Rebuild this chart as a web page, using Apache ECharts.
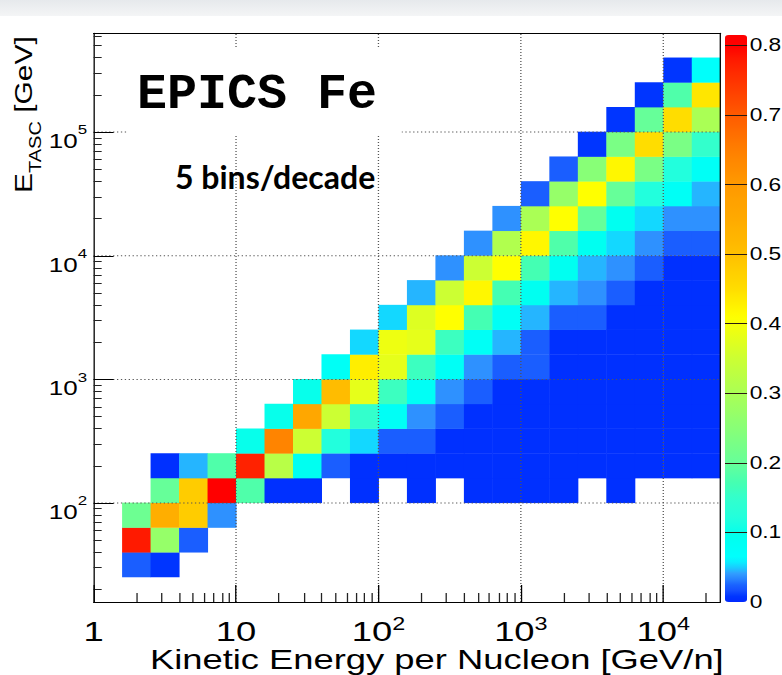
<!DOCTYPE html>
<html>
<head>
<meta charset="utf-8">
<script src="https://cdn.jsdelivr.net/npm/echarts@6/dist/echarts.min.js"></script>
<style>
  html, body { margin: 0; padding: 0; background: #ffffff; overflow: hidden; }
  /* the ROOT-style plot is drawn in a narrower frame and stretched horizontally */
  #chart { width: 602px; height: 675px; transform: scaleX(1.299); transform-origin: 0 0; }
</style>
</head>
<body>
<div id="chart"></div>
<script>
// horizontal stretch applied to the drawing frame (782 / 602)
const STRETCH = 782 / 602;

// binning: 5 bins per decade on both axes (log10 units)
const binWidthLog = 0.2;
const xMinLog = 0;      // 1 GeV/n
const xMaxLog = 4.4;    // ~2.5e4 GeV/n
const yMinLog = 1.2;    // ~16 GeV
const yMaxLog = 5.8;    // ~6.3e5 GeV
const yFirstRowLog = 1.4;

// decade ticks and labels
const xMajorTicks = [0, 1, 2, 3, 4];
const yMajorTicks = [2, 3, 4, 5];
const minorFactors = [2, 3, 4, 5, 6, 7, 8, 9];
const gridXLog = [1, 2, 3, 4];
const gridYLog = [2, 3, 4, 5];

// colour scale
const zMax = 0.815;
const zStep = 0.1;
const zTicks = [0, 0.1, 0.2, 0.3, 0.4, 0.5, 0.6, 0.7, 0.8];

// normalised bin content, one row per E_TASC bin from log10 E = 1.4 upwards,
// 22 kinetic-energy bins per row (log10 Ek = 0.0 ... 4.4); __ = empty bin
const __ = null;
const zRows = [
  [__, 0.022, 0.008, __, __, __, __, __, __, __, __, __, __, __, __, __, __, __, __, __, __, __],
  [__, 0.78, 0.27, 0.022, __, __, __, __, __, __, __, __, __, __, __, __, __, __, __, __, __, __],
  [__, 0.21, 0.54, 0.48, 0.037, __, __, __, __, __, __, __, __, __, __, __, __, __, __, __, __, __],
  [__, __, 0.20, 0.48, 0.81, 0.18, 0.005, 0.005, __, 0.005, __, 0.005, __, 0.005, 0.005, 0.005, 0.005, __, 0.005, __, __, __],
  [__, __, 0.005, 0.045, 0.18, 0.77, 0.32, 0.09, 0.022, 0.005, 0.005, 0.005, 0.005, 0.005, 0.005, 0.005, 0.005, 0.005, 0.005, 0.005, 0.005, 0.005],
  [__, __, __, __, __, 0.10, 0.64, 0.35, 0.12, 0.052, 0.022, 0.022, 0.005, 0.005, 0.005, 0.005, 0.005, 0.005, 0.005, 0.005, 0.005, 0.005],
  [__, __, __, __, __, __, 0.10, 0.56, 0.35, 0.15, 0.08, 0.037, 0.022, 0.005, 0.005, 0.005, 0.005, 0.005, 0.005, 0.005, 0.005, 0.005],
  [__, __, __, __, __, __, __, 0.10, 0.51, 0.38, 0.16, 0.08, 0.037, 0.022, 0.005, 0.005, 0.005, 0.005, 0.005, 0.005, 0.005, 0.005],
  [__, __, __, __, __, __, __, __, 0.08, 0.43, 0.38, 0.16, 0.08, 0.037, 0.022, 0.022, 0.005, 0.005, 0.005, 0.005, 0.005, 0.005],
  [__, __, __, __, __, __, __, __, __, 0.052, 0.39, 0.38, 0.16, 0.08, 0.045, 0.022, 0.005, 0.005, 0.005, 0.005, 0.005, 0.005],
  [__, __, __, __, __, __, __, __, __, __, 0.052, 0.37, 0.41, 0.17, 0.08, 0.045, 0.022, 0.022, 0.005, 0.005, 0.005, 0.005],
  [__, __, __, __, __, __, __, __, __, __, __, 0.045, 0.35, 0.42, 0.17, 0.09, 0.045, 0.037, 0.022, 0.005, 0.005, 0.005],
  [__, __, __, __, __, __, __, __, __, __, __, __, 0.037, 0.35, 0.41, 0.17, 0.09, 0.045, 0.037, 0.022, 0.005, 0.005],
  [__, __, __, __, __, __, __, __, __, __, __, __, __, 0.037, 0.31, 0.42, 0.18, 0.09, 0.052, 0.037, 0.022, 0.022],
  [__, __, __, __, __, __, __, __, __, __, __, __, __, __, 0.037, 0.30, 0.41, 0.20, 0.09, 0.052, 0.037, 0.037],
  [__, __, __, __, __, __, __, __, __, __, __, __, __, __, __, 0.022, 0.27, 0.41, 0.20, 0.12, 0.08, 0.045],
  [__, __, __, __, __, __, __, __, __, __, __, __, __, __, __, __, 0.022, 0.25, 0.42, 0.23, 0.12, 0.08],
  [__, __, __, __, __, __, __, __, __, __, __, __, __, __, __, __, __, 0.008, 0.23, 0.45, 0.23, 0.15],
  [__, __, __, __, __, __, __, __, __, __, __, __, __, __, __, __, __, __, 0.008, 0.20, 0.45, 0.30],
  [__, __, __, __, __, __, __, __, __, __, __, __, __, __, __, __, __, __, __, 0.008, 0.18, 0.44],
  [__, __, __, __, __, __, __, __, __, __, __, __, __, __, __, __, __, __, __, __, 0.008, 0.07]
];

// rainbow palette, compressed blue end
const paletteStops = [
  [0.000, '#0028ff'], [0.010, '#0038ff'], [0.018, '#1a55ff'], [0.026, '#1a66ff'],
  [0.034, '#2a88ff'], [0.040, '#3399ff'], [0.046, '#22bbff'], [0.053, '#11ddff'],
  [0.062, '#00ffff'], [0.095, '#00ffee'], [0.120, '#22ffdd'], [0.150, '#33ffcc'],
  [0.170, '#44ffb3'], [0.200, '#66ff99'], [0.250, '#88ff77'], [0.300, '#aaff55'],
  [0.350, '#ccff33'], [0.390, '#eeff11'], [0.410, '#ffff00'], [0.450, '#ffdd00'],
  [0.500, '#ffc000'], [0.550, '#ffaa00'], [0.600, '#ff9900'], [0.650, '#ff7f00'],
  [0.700, '#ff5a00'], [0.750, '#ff3300'], [0.780, '#ff1a00'], [0.800, '#ff0000'],
  [0.815, '#ff0000']
];

function hexRgb(h) {
  return [parseInt(h.slice(1, 3), 16), parseInt(h.slice(3, 5), 16), parseInt(h.slice(5, 7), 16)];
}
function paletteAt(v) {
  for (let k = 1; k < paletteStops.length; k++) {
    const [v1, c1] = paletteStops[k];
    if (v <= v1 + 1e-12) {
      const [v0, c0] = paletteStops[k - 1];
      const t = (v - v0) / (v1 - v0);
      const a = hexRgb(c0), b = hexRgb(c1);
      return 'rgb(' + a.map((x, n) => Math.round(x + (b[n] - x) * t)).join(',') + ')';
    }
  }
  return paletteStops[paletteStops.length - 1][1];
}
const barSamples = 327;
const barColors = [];
for (let k = 0; k < barSamples; k++) barColors.push(paletteAt(zMax * k / (barSamples - 1)));

// cells: [log10 Ek lower edge, log10 E_TASC lower edge, content]
const cells = [];
zRows.forEach((row, j) => {
  row.forEach((z, i) => {
    if (z !== null) cells.push([xMinLog + i * binWidthLog, yFirstRowLog + j * binWidthLog, z]);
  });
});

function minorTicks(lo, hi) {
  const out = [];
  for (let d = Math.floor(lo); d <= Math.ceil(hi); d++) {
    minorFactors.forEach(f => {
      const v = d + Math.log10(f);
      if (v > lo && v < hi) out.push(v);
    });
  }
  return out;
}

function powerLabel(v) {
  const n = Math.round(v);
  if (n === 0) return '{b|1}';
  if (n === 1) return '{b|10}';
  return '{b|10}{s|' + n + '}';
}

const sansFont = '"Liberation Sans", Arial, Helvetica, sans-serif';

// y-axis title pieces: E with subscript TASC, then the unit
const yTitleMainFont = '30px "Liberation Sans", Arial, sans-serif';
const yTitleSubFont = '20px "Liberation Sans", Arial, sans-serif';
const measureCtx = document.createElement('canvas').getContext('2d');
function textWidth(text, font) { measureCtx.font = font; return measureCtx.measureText(text).width; }
const wE = textWidth('E', yTitleMainFont);
const wSub = textWidth('TASC', yTitleSubFont);

// plot frame in drawing units
const plotLeft = 72.06, plotTop = 33.2, plotWidth = 482.4, plotHeight = 568.8;
const barLeft = 558.1, barTop = 35, barWidth = 17, barHeight = 567;

const chart = echarts.init(document.getElementById('chart'), null, { renderer: 'svg', width: 602, height: 675 });

chart.setOption({
  animation: false,
  backgroundColor: '#ffffff',
  grid: [
    { left: plotLeft, top: plotTop, width: plotWidth, height: plotHeight, containLabel: false, outerBoundsMode: 'none' },
    { left: barLeft, top: barTop, width: barWidth, height: barHeight, containLabel: false, outerBoundsMode: 'none' }
  ],
  xAxis: [
    {
      type: 'value', gridIndex: 0, position: 'bottom', min: xMinLog, max: xMaxLog, z: 5,
      axisLine: { show: true, onZero: false, lineStyle: { color: '#000', width: 1 } },
      axisTick: { show: true, inside: true, length: 17, customValues: xMajorTicks, lineStyle: { color: '#000', width: 1 } },
      axisLabel: {
        show: true, customValues: xMajorTicks, margin: 12.5, color: '#000', formatter: powerLabel,
        rich: {
          b: { fontFamily: sansFont, fontSize: 28, lineHeight: 31, verticalAlign: 'bottom', color: '#000' },
          s: { fontFamily: sansFont, fontSize: 18, lineHeight: 12, verticalAlign: 'top', color: '#000' }
        }
      },
      splitLine: { show: false },
      name: 'Kinetic Energy per Nucleon [GeV/n]', nameLocation: 'middle', nameGap: 44, nameMoveOverlap: false,
      nameTextStyle: { fontFamily: sansFont, fontSize: 28, color: '#000', padding: [0, 0, 0, 46] }
    },
    {
      type: 'value', gridIndex: 0, position: 'bottom', min: xMinLog, max: xMaxLog, z: 5,
      axisLine: { show: false, onZero: false },
      axisTick: { show: true, inside: true, length: 9, customValues: minorTicks(xMinLog, xMaxLog), lineStyle: { color: '#222', width: 1 } },
      axisLabel: { show: false },
      splitLine: { show: false }
    },
    {
      type: 'value', gridIndex: 0, position: 'top', min: xMinLog, max: xMaxLog, z: 5,
      axisLine: { show: true, onZero: false, lineStyle: { color: '#000', width: 1 } },
      axisTick: { show: false }, axisLabel: { show: false }, splitLine: { show: false }
    },
    {
      type: 'value', gridIndex: 1, min: 0, max: 1, show: false
    }
  ],
  yAxis: [
    {
      type: 'value', gridIndex: 0, position: 'left', min: yMinLog, max: yMaxLog, z: 5,
      axisLine: { show: true, onZero: false, lineStyle: { color: '#000', width: 1 } },
      axisTick: { show: true, inside: true, length: 15.4, customValues: yMajorTicks, lineStyle: { color: '#000', width: 1 } },
      axisLabel: {
        show: true, customValues: yMajorTicks, margin: 5, color: '#000', formatter: powerLabel,
        padding: [10, 0, 0, 0],
        rich: {
          b: { fontFamily: sansFont, fontSize: 20, lineHeight: 28, verticalAlign: 'bottom', color: '#000' },
          s: { fontFamily: sansFont, fontSize: 13, lineHeight: 13, verticalAlign: 'top', color: '#000' }
        }
      },
      splitLine: { show: false }
    },
    {
      type: 'value', gridIndex: 0, position: 'left', min: yMinLog, max: yMaxLog, z: 5,
      axisLine: { show: false, onZero: false },
      axisTick: { show: true, inside: true, length: 6.2, customValues: minorTicks(yMinLog, yMaxLog), lineStyle: { color: '#222', width: 1 } },
      axisLabel: { show: false },
      splitLine: { show: false }
    },
    {
      type: 'value', gridIndex: 0, position: 'right', min: yMinLog, max: yMaxLog, z: 5,
      axisLine: { show: true, onZero: false, lineStyle: { color: '#000', width: 1 } },
      axisTick: { show: false }, axisLabel: { show: false }, splitLine: { show: false }
    },
    {
      // colour-bar scale: labels on the right, tick lines across the bar
      type: 'value', gridIndex: 1, position: 'right', min: 0, max: zMax, interval: zStep, z: 6,
      axisLine: { show: false, onZero: false },
      axisTick: { show: false },
      axisLabel: {
        show: true, customValues: zTicks, margin: 2, color: '#000', fontFamily: sansFont, fontSize: 17.5,
        formatter: v => (v === 0 ? '0' : v.toFixed(1))
      },
      splitLine: { show: true, showMinLine: false, showMaxLine: false, lineStyle: { color: '#2a1a10', width: 1, type: 'solid' } }
    }
  ],
  visualMap: {
    type: 'continuous', seriesIndex: 0, dimension: 2, min: 0, max: zMax,
    calculable: false, hoverLink: false, padding: 0, z: 4,
    left: barLeft, top: barTop, itemWidth: barWidth, itemHeight: barHeight,
    inRange: { color: barColors }
  },
  series: [
    {
      type: 'custom', name: 'EPICS Fe', xAxisIndex: 0, yAxisIndex: 0, z: 2, silent: true,
      data: cells,
      renderItem: (params, api) => {
        const xl = api.value(0), yl = api.value(1);
        const a = api.coord([xl, yl + binWidthLog]);
        const b = api.coord([xl + binWidthLog, yl]);
        return {
          type: 'rect',
          shape: { x: a[0], y: a[1] - 0.4, width: b[0] - a[0] + 0.4, height: b[1] - a[1] + 0.4 },
          style: { fill: api.visual('color'), stroke: null }
        };
      }
    },
    {
      type: 'custom', name: 'grid', xAxisIndex: 0, yAxisIndex: 0, z: 3, silent: true,
      data: gridXLog.map(v => [v, 0]).concat(gridYLog.map(v => [v, 1])),
      renderItem: (params, api) => {
        const v = api.value(0);
        const horizontal = api.value(1) === 1;
        const a = horizontal ? api.coord([xMinLog, v]) : api.coord([v, yMinLog]);
        const b = horizontal ? api.coord([xMaxLog, v]) : api.coord([v, yMaxLog]);
        return {
          type: 'line',
          shape: { x1: a[0], y1: a[1], x2: b[0], y2: b[1] },
          style: { stroke: '#555', lineWidth: 1, lineDash: [1, 2] }
        };
      }
    }
  ],
  graphic: [
    {
      type: 'rect', z: 1, silent: true,
      shape: { x: 0, y: 0, width: 602, height: 16 },
      style: {
        fill: { type: 'linear', x: 0, y: 0, x2: 0, y2: 1,
          colorStops: [{ offset: 0, color: '#e6e9ec' }, { offset: 1, color: '#f4f5f6' }] }
      }
    },
    {
      type: 'rect', z: 10, silent: true,
      shape: { x: 98.5, y: 47, width: 210.7, height: 87 },
      style: { fill: '#ffffff' }
    },
    {
      type: 'text', z: 11, silent: true, x: 105.5, y: 95, scaleX: 1 / STRETCH,
      style: { text: 'EPICS Fe', fill: '#000', font: 'bold 50px "Liberation Mono", "Courier New", monospace', align: 'left', verticalAlign: 'middle' }
    },
    {
      type: 'text', z: 11, silent: true, x: 134.7, y: 177, scaleX: 1 / STRETCH,
      style: { text: '5 bins/decade', fill: '#000', font: 'bold 32px Lato, "Open Sans", sans-serif', align: 'left', verticalAlign: 'middle' }
    },
    {
      // E_TASC [GeV], reading upwards; subscript sits toward the axis
      type: 'group', x: 18.5, y: 193, rotation: Math.PI / 2, scaleY: 0.62, z: 11, silent: true,
      children: [
        { type: 'text', x: 0, y: 0, z: 11, style: { text: 'E', font: yTitleMainFont, fill: '#000', align: 'left', verticalAlign: 'middle' } },
        { type: 'text', x: wE, y: 14, z: 11, style: { text: 'TASC', font: yTitleSubFont, fill: '#000', align: 'left', verticalAlign: 'middle' } },
        { type: 'text', x: wE + wSub, y: 0, z: 11, style: { text: ' [GeV]', font: yTitleMainFont, fill: '#000', align: 'left', verticalAlign: 'middle' } }
      ]
    }
  ]
});
</script>
</body>
</html>
